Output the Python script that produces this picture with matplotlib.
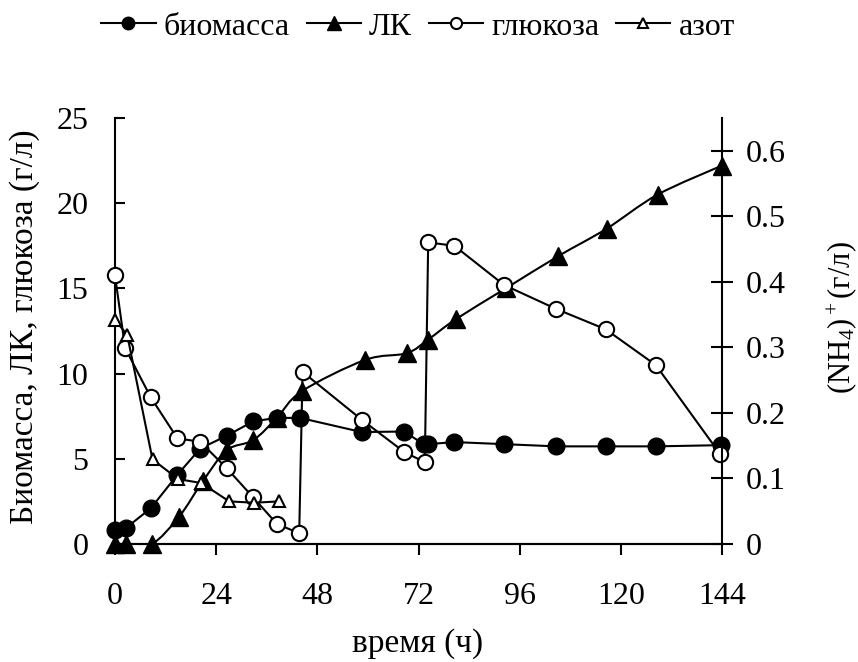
import matplotlib
matplotlib.use('Agg')
import matplotlib.pyplot as plt
from matplotlib.path import Path
from matplotlib.patches import PathPatch
from matplotlib.lines import Line2D
import numpy as np

plt.rcParams['font.family'] = ['Liberation Serif', 'DejaVu Serif']
plt.rcParams['mathtext.fontset'] = 'custom'
plt.rcParams['mathtext.rm'] = 'Liberation Serif'
plt.rcParams['mathtext.it'] = 'Liberation Serif'
plt.rcParams['mathtext.default'] = 'regular'

# данные
t_bio = [0, 2.5, 8.5, 14.8, 20.2, 26.5, 32.8, 38.4, 43.9, 58.5, 68.6, 73.2, 74.3,
         80.5, 92.3, 104.6, 116.4, 128.3, 143.8]
biomass = [0.85, 0.92, 2.1, 4.06, 5.6, 6.35, 7.2, 7.4, 7.4, 6.57, 6.6, 5.86, 5.86,
           5.98, 5.86, 5.73, 5.73, 5.73, 5.8]

t_lk = [0, 2.5, 8.7, 15.2, 20.8, 26.5, 32.8, 38.4, 44.3, 59.3, 69.2, 74.3, 80.9,
        92.7, 105.2, 116.6, 128.7, 143.9]
lk = [0, 0, 0, 1.6, 3.67, 5.5, 6.1, 7.4, 8.96, 10.8, 11.2, 12.0, 13.2,
      15.0, 16.9, 18.5, 20.5, 22.2]

t_glu = [0, 2.4, 8.5, 14.8, 20.2, 26.5, 32.8, 38.4, 43.7, 44.5, 58.5, 68.6, 73.5,
         74.3, 80.5, 92.3, 104.6, 116.4, 128.3, 143.5]
glucose = [15.76, 11.5, 8.6, 6.2, 6.0, 4.45, 2.73, 1.18, 0.63, 10.1, 7.3, 5.4, 4.8,
           17.7, 17.5, 15.2, 13.8, 12.6, 10.5, 5.3]

t_az = [0, 2.9, 8.9, 15, 20.5, 27.1, 33, 39]
azot = [0.342, 0.319, 0.129, 0.099, 0.093, 0.065, 0.063, 0.065]

x_ticks = [0, 24, 48, 72, 96, 120, 144]
y_ticks = [0, 5, 10, 15, 20, 25]
y2_ticks = [0, 0.1, 0.2, 0.3, 0.4, 0.5, 0.6]
y2_labels = ['0', '0.1', '0.2', '0.3', '0.4', '0.5', '0.6']

labels = ['биомасса', 'ЛК', 'глюкоза', 'азот']


def smooth_path(xs, ys):
    # сглаженная линия как в Excel (кривые Безье по Catmull-Rom)
    p = np.column_stack([xs, ys]).astype(float)
    n = len(p)
    verts = [p[0]]
    codes = [Path.MOVETO]
    for i in range(n - 1):
        p0 = p[i - 1] if i > 0 else p[i]
        p1 = p[i]
        p2 = p[i + 1]
        p3 = p[i + 2] if i + 2 < n else p[i + 1]
        c1 = p1 + (p2 - p0) / 6.0
        c2 = p2 - (p3 - p1) / 6.0
        verts += [c1, c2, p2]
        codes += [Path.CURVE4] * 3
    return Path(verts, codes)


W, H = 858, 662
fig = plt.figure(figsize=(W / 100, H / 100), dpi=100)
ax = fig.add_axes([115 / W, 1 - 544 / H, (722 - 115) / W, (544 - 118) / H])
ax2 = ax.twinx()

lw = 1.5
ms_fill = 12
ms_tri = 13
ms_open = 11
ms_az = 9

ax.plot(t_bio, biomass, color='black', lw=lw, marker='o', ms=ms_fill,
        mfc='black', mec='black', zorder=3, clip_on=False)

ax.add_patch(PathPatch(smooth_path(t_lk, lk), fc='none', ec='black', lw=lw,
                       transform=ax.transData, zorder=4))
ax.plot(t_lk, lk, ls='none', marker='^', ms=ms_tri, mfc='black', mec='black',
        zorder=4, clip_on=False)

ax.plot(t_glu, glucose, color='black', lw=lw, marker='o', ms=ms_open,
        mfc='white', mec='black', mew=1.5, zorder=5, clip_on=False)

ax2.plot(t_az, azot, color='black', lw=lw, marker='^', ms=ms_az,
         mfc='white', mec='black', mew=1.5, clip_on=False)

ax.set_xlim(0, 144)
ax.set_ylim(0, 25)
ax2.set_ylim(0, 0.65)
ax.set_xticks(x_ticks)
ax.set_yticks(y_ticks)
ax2.set_yticks(y2_ticks)
ax2.set_yticklabels(y2_labels)

for a in (ax, ax2):
    a.spines['top'].set_visible(False)
    for s in a.spines.values():
        s.set_linewidth(1.5)
ax.spines['right'].set_visible(False)
ax2.spines['left'].set_visible(False)

ax.tick_params(axis='x', direction='out', length=8, width=1.5, pad=19, labelsize=23)
ax.tick_params(axis='y', direction='in', length=7, width=1.5, pad=19, labelsize=23)
ax2.tick_params(axis='y', direction='inout', length=16, width=1.5, pad=9, labelsize=23)

fig.text(25 / W, 1 - 327 / H, 'Биомасса, ЛК, глюкоза (г/л)', rotation=90,
         ha='center', va='center', fontsize=24)
fig.text(842 / W, 1 - 318 / H, '(NH$_4$)$^+$(г/л)', rotation=90,
         ha='center', va='center', fontsize=22)
fig.text(418 / W, 1 - 644 / H, 'время (ч)', ha='center', va='center', fontsize=24)

handles = [
    Line2D([], [], color='black', lw=lw, marker='o', ms=9, mfc='black', mec='black'),
    Line2D([], [], color='black', lw=lw, marker='^', ms=10, mfc='black', mec='black'),
    Line2D([], [], color='black', lw=lw, marker='o', ms=8, mfc='white', mec='black', mew=1.5),
    Line2D([], [], color='black', lw=lw, marker='^', ms=7, mfc='white', mec='black', mew=1.5),
]
fig.legend(handles, labels, loc='center', bbox_to_anchor=(418 / W, 1 - 27 / H),
           ncol=4, frameon=False, fontsize=23, handlelength=1.7,
           handletextpad=0.25, columnspacing=0.53, borderaxespad=0)

fig.savefig('out.png', dpi=100)
